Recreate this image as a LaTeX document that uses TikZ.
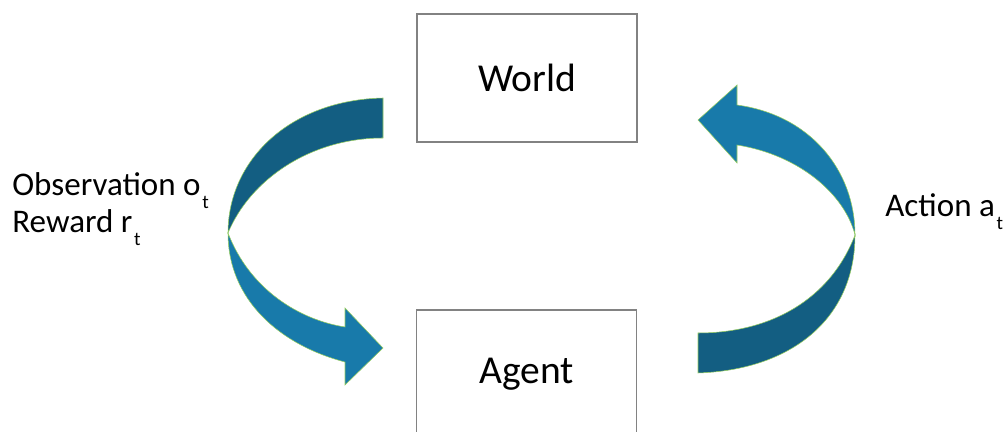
\documentclass[tikz,border=0pt]{standalone}
\usepackage{fontspec}
\setmainfont{Carlito}
\usepackage{tikz}

\definecolor{darkblue}{RGB}{19,94,130}
\definecolor{lightblue}{RGB}{24,122,170}
\definecolor{glow}{RGB}{150,205,95}
\definecolor{boxgray}{RGB}{130,130,130}

% lowered index as in the original slide
\newcommand{\lowsub}[1]{\kern1pt\raisebox{-7pt}{\fontsize{11}{11}\selectfont #1}}

\tikzset{
  box/.style={draw=boxgray, line width=1pt, minimum width=4.4cm, minimum height=2.56cm,
    font=\fontsize{22.5}{26}\selectfont},
  label/.style={inner sep=0pt, font=\fontsize{18.8}{22}\selectfont},
  band/.style={draw=glow, line width=0.3pt}
}

\begin{document}
\begin{tikzpicture}[x=0.02cm,y=-0.02cm]
\useasboundingbox (0,0) rectangle (1005,432);
\clip (0,0) rectangle (1005,432);

% the two boxes
\node [box] (world) at (527,78) {World};
\node [box] (agent) at (526.5,374) {Agent};

% left arrow, world to agent
\draw [band, fill=darkblue] (383,98) .. controls (290,100) and (228,160) .. (228,233)
  .. controls (250,180) and (310,138) .. (383,138) -- cycle;
\draw [band, fill=lightblue] (228,233) .. controls (228,300) and (280,345) .. (345,362)
  -- (345,385) -- (383,348) -- (345,308) -- (345,327)
  .. controls (300,320) and (250,290) .. (228,233) -- cycle;

% right arrow, agent to world
\draw [band, fill=lightblue] (855,235) .. controls (855,170) and (810,115) .. (737,105)
  -- (737,85) -- (698,120) -- (737,163) -- (737,145)
  .. controls (800,155) and (845,195) .. (855,235) -- cycle;
\draw [band, fill=darkblue] (855,235) .. controls (855,320) and (790,370) .. (698,373)
  -- (698,333) .. controls (770,333) and (830,300) .. (855,235) -- cycle;

% labels
\node [label, anchor=base west] (obs) at (12,196) {Observation o\lowsub{t}};
\node [label, anchor=base west] (rew) at (12,233) {Reward r\lowsub{t}};
\node [label, anchor=base west] (act) at (885,217) {Action a\lowsub{t}};
\end{tikzpicture}
\end{document}
